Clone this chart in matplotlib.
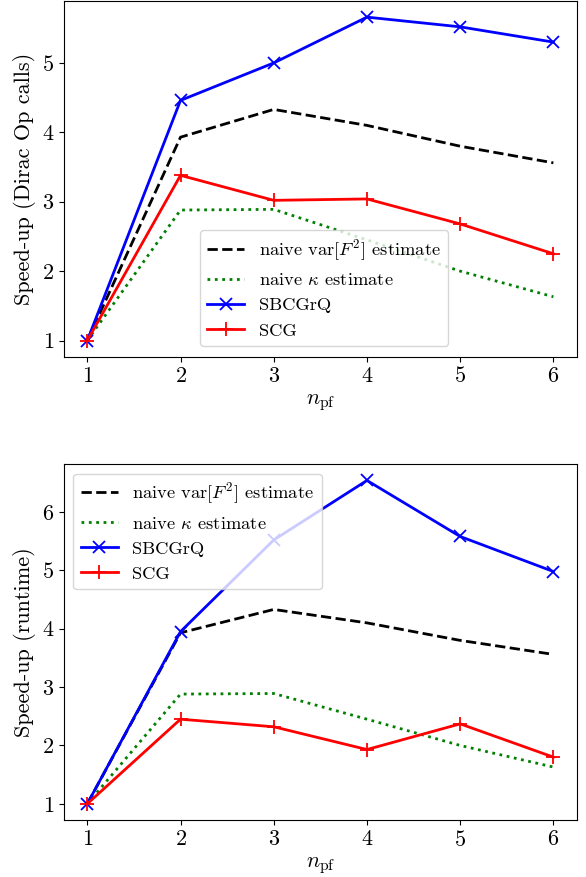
import numpy as np
import matplotlib
matplotlib.use('Agg')
import matplotlib.pyplot as plt

plt.rcParams['font.family'] = 'serif'
plt.rcParams['font.serif'] = ['cmr10']
plt.rcParams['mathtext.fontset'] = 'cm'
plt.rcParams['axes.formatter.use_mathtext'] = True
plt.rcParams['font.size'] = 16
plt.rcParams['legend.fontsize'] = 13.3

n_pf = [1, 2, 3, 4, 5, 6]

# naive estimates (same in both panels)
naive_var = [1.0, 3.93, 4.33, 4.10, 3.80, 3.56]
naive_kappa = [1.0, 2.88, 2.89, 2.45, 2.00, 1.63]

# speed-up in Dirac operator calls
sbcgrq_calls = [1.0, 4.46, 5.00, 5.66, 5.52, 5.30]
scg_calls = [1.0, 3.38, 3.02, 3.04, 2.68, 2.25]

# speed-up in runtime
sbcgrq_time = [1.0, 3.95, 5.52, 6.54, 5.58, 4.98]
scg_time = [1.0, 2.45, 2.32, 1.93, 2.37, 1.80]

labels = [r'naive var$[F^2]$ estimate', r'naive $\kappa$ estimate', 'SBCGrQ', 'SCG']


def draw_panel(ax, sbcgrq, scg, ylabel):
    ax.plot(n_pf, naive_var, 'k--', lw=2, label=labels[0])
    ax.plot(n_pf, naive_kappa, 'g:', lw=2, label=labels[1])
    ax.plot(n_pf, sbcgrq, 'b-x', lw=2, ms=9, mew=1.3, label=labels[2])
    ax.plot(n_pf, scg, 'r-+', lw=2, ms=10, mew=1.3, label=labels[3])
    ax.set_xlabel(r'$n_\mathrm{pf}$')
    ax.set_ylabel(ylabel)
    ax.set_xticks(n_pf)


fig = plt.figure(figsize=(5.86, 8.77), dpi=100)

ax1 = fig.add_axes([0.1092, 0.5933, 0.8749, 0.4056])
draw_panel(ax1, sbcgrq_calls, scg_calls, 'Speed-up (Dirac Op calls)')
ax1.set_yticks([1, 2, 3, 4, 5])
ax1.legend(loc='lower left', bbox_to_anchor=(0.265, 0.030), borderaxespad=0)

ax2 = fig.add_axes([0.1092, 0.0650, 0.8749, 0.4056])
draw_panel(ax2, sbcgrq_time, scg_time, 'Speed-up (runtime)')
ax2.set_yticks([1, 2, 3, 4, 5, 6])
ax2.legend(loc='upper left')

fig.savefig('out.png', dpi=100)
